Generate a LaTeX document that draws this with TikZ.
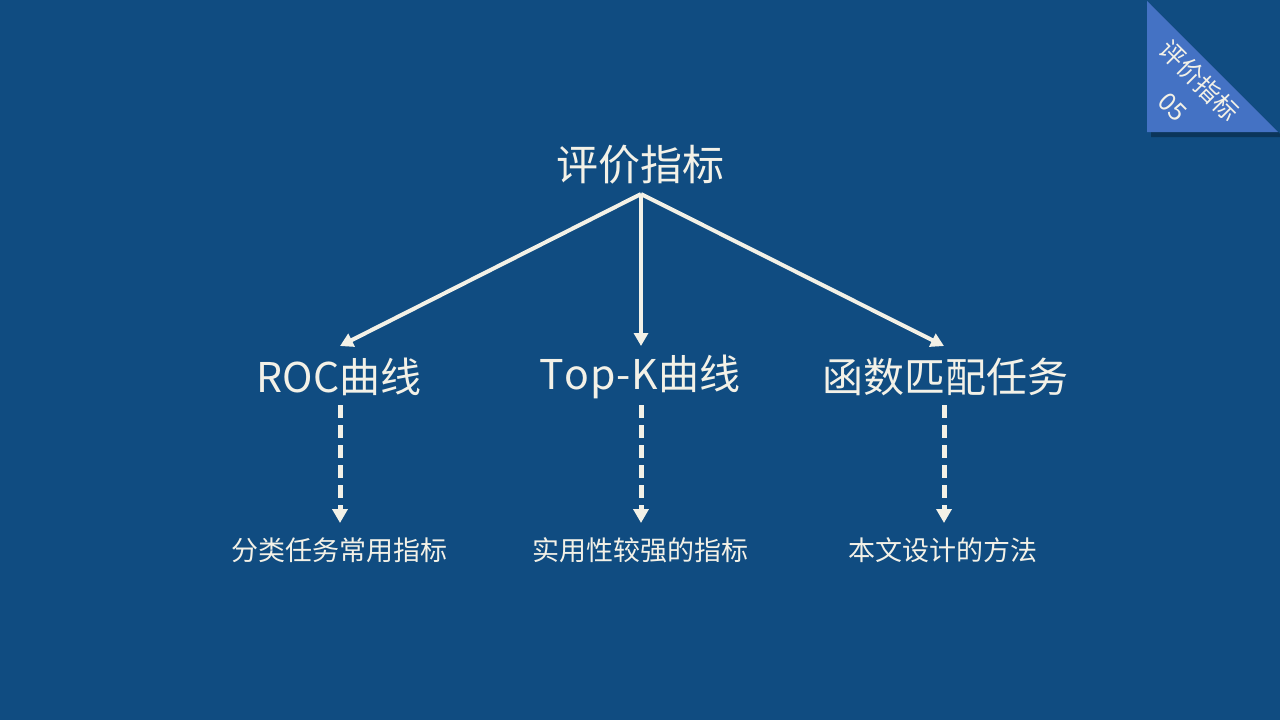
\documentclass[tikz,border=0pt]{standalone}
\usepackage{fontspec}
\setmainfont{Noto Sans CJK SC}
\usetikzlibrary{arrows.meta}
\definecolor{bg}{HTML}{104C81}
\definecolor{cream}{HTML}{F3F1E7}
\definecolor{tri}{HTML}{4472C4}
\tikzset{
  lbl/.style={text=cream, inner sep=0pt, anchor=center},
  solidarrow/.style={draw=cream, line width=2pt, -{Triangle[width=7pt,length=6.5pt]}},
  dasharrow/.style={draw=cream, line width=2.5pt, dash pattern=on 6.5pt off 3.5pt, -{Triangle[width=7.5pt,length=7pt]}},
}
\begin{document}
\begin{tikzpicture}[x=0.5pt,y=-0.5pt]
\fill[bg] (0,0) rectangle (1280,720);
\useasboundingbox (0,0) rectangle (1280,720);
% corner triangle with shadow
\fill[black, opacity=0.3] (1151,5) -- (1151,137) -- (1283,137) -- cycle;
\fill[tri] (1147,1) -- (1147,132) -- (1278,132) -- cycle;
\node[lbl, rotate=-45, align=center, font=\fontsize{12.5}{18.4}\selectfont] (ct) at (1187,93) {评价指标\\05};
% title
\node[lbl, font=\fontsize{21}{25}\selectfont] (title) at (640,165) {评价指标};
\coordinate (hub) at (641,194);
\coordinate (e1) at (340,346);
\coordinate (e2) at (641,346);
\coordinate (e3) at (944,346);
\draw[solidarrow] (hub) -- (e1);
\draw[solidarrow] (hub) -- (e2);
\draw[solidarrow] (hub) -- (e3);
% level 2
\node[lbl, font=\fontsize{20.5}{24}\selectfont] (roc) at (339,377) {ROC曲线};
\node[lbl, font=\fontsize{20.5}{24}\selectfont] (topk) at (640,377) {T\kern0.4pt o\kern0.4pt p\kern0.4pt -\kern0.4pt K\kern0.4pt 曲线};
\node[lbl, font=\fontsize{20.5}{24}\selectfont] (func) at (945,377) {函数匹配任务};
\coordinate (s1) at (340,405);
\coordinate (s2) at (641,405);
\coordinate (s3) at (944,405);
\coordinate (d1) at (340,523);
\coordinate (d2) at (641,523);
\coordinate (d3) at (944,523);
\draw[dasharrow] (s1) -- (d1);
\draw[dasharrow] (s2) -- (d2);
\draw[dasharrow] (s3) -- (d3);
% level 3
\node[lbl, font=\fontsize{13.5}{16}\selectfont] (b1) at (339,550) {分类任务常用指标};
\node[lbl, font=\fontsize{13.5}{16}\selectfont] (b2) at (640,550) {实用性较强的指标};
\node[lbl, font=\fontsize{13.5}{16}\selectfont] (b3) at (943,550) {本文设计的方法};
\end{tikzpicture}
\end{document}
